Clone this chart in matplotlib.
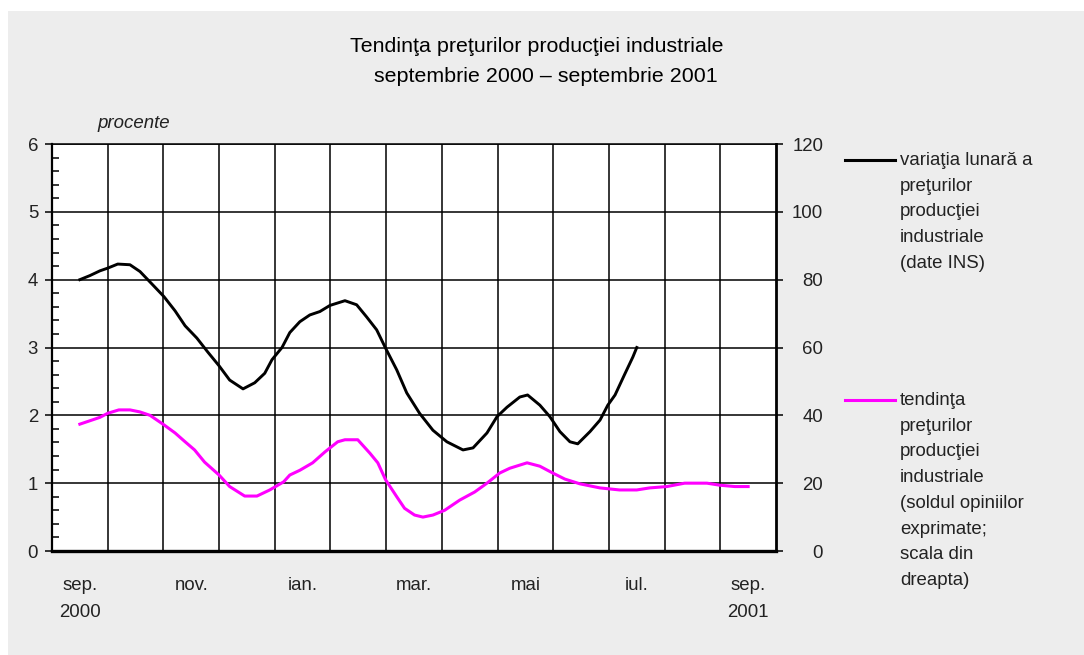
"""Tendinta preturilor productiei industriale, sep. 2000 - sep. 2001."""

import matplotlib.pyplot as plt
from matplotlib.patches import Rectangle
from matplotlib.lines import Line2D
from matplotlib.ticker import MultipleLocator, FixedLocator

plt.rcParams["font.family"] = ["Liberation Sans", "DejaVu Sans"]

# month offsets from sep. 2000 (0 = sep. 2000, 12 = sep. 2001)
MONTH_LABELS = ["sep.\n2000", "nov.", "ian.", "mar.", "mai", "iul.", "sep.\n2001"]
MONTH_TICKS = [0, 2, 4, 6, 8, 10, 12]

# variatia lunara a preturilor (left scale, %)
ins_t = [0.00, 0.18, 0.36, 0.50, 0.68, 0.90, 1.08, 1.29, 1.51, 1.71, 1.89, 2.10,
         2.30, 2.50, 2.69, 2.93, 3.14, 3.32, 3.45, 3.63, 3.77, 3.95, 4.13, 4.31,
         4.49, 4.76, 4.97, 5.15, 5.33, 5.49, 5.69, 5.87, 6.10, 6.34, 6.59, 6.88,
         7.06, 7.31, 7.49, 7.67, 7.90, 8.04, 8.26, 8.44, 8.62, 8.80, 8.94, 9.16,
         9.34, 9.48, 9.61, 9.78, 9.93, 10.00]
ins_val = [4.00, 4.06, 4.13, 4.17, 4.23, 4.22, 4.12, 3.94, 3.75, 3.54, 3.32, 3.14,
           2.93, 2.73, 2.52, 2.39, 2.48, 2.62, 2.82, 3.00, 3.22, 3.38, 3.48, 3.53,
           3.62, 3.69, 3.63, 3.45, 3.26, 2.99, 2.67, 2.33, 2.03, 1.78, 1.61, 1.49,
           1.52, 1.74, 1.98, 2.12, 2.27, 2.30, 2.15, 1.98, 1.76, 1.61, 1.58, 1.76,
           1.93, 2.15, 2.30, 2.60, 2.86, 3.00]

# tendinta preturilor - soldul opiniilor (right scale)
opin_t = [0.00, 0.18, 0.36, 0.50, 0.70, 0.90, 1.08, 1.26, 1.51, 1.71, 1.89, 2.06,
          2.24, 2.50, 2.69, 2.96, 3.18, 3.41, 3.66, 3.77, 3.95, 4.18, 4.40, 4.63,
          4.76, 4.99, 5.21, 5.35, 5.49, 5.69, 5.83, 6.01, 6.16, 6.34, 6.55, 6.82,
          7.09, 7.31, 7.54, 7.72, 8.03, 8.26, 8.49, 8.71, 8.98, 9.34, 9.69, 10.00,
          10.23, 10.54, 10.86, 11.26, 11.49, 11.76, 12.00]
opin_val = [37.4, 38.4, 39.4, 40.6, 41.6, 41.6, 41.0, 40.0, 37.2, 34.8, 32.2, 29.8,
            26.2, 22.4, 19.0, 16.2, 16.2, 18.0, 20.4, 22.4, 23.8, 26.0, 29.2, 32.2,
            32.8, 32.8, 28.8, 26.0, 21.0, 16.0, 12.6, 10.6, 10.0, 10.6, 12.0, 15.0,
            17.4, 20.0, 23.0, 24.4, 26.0, 25.0, 23.0, 21.2, 19.8, 18.6, 18.0, 18.0,
            18.6, 19.0, 20.0, 20.0, 19.4, 19.0, 19.0]

LEGEND_INS = "variaţia lunară a\npreţurilor\nproducţiei\nindustriale\n(date INS)"
LEGEND_OPIN = ("tendinţa\npreţurilor\nproducţiei\nindustriale\n(soldul opiniilor\n"
               "exprimate;\nscala din\ndreapta)")

TXT = "#222222"
FS = 13.4

W, H = 1084, 655
fig = plt.figure(figsize=(W / 100, H / 100), dpi=100)
fig.patch.set_facecolor("white")
fig.patches.append(Rectangle((8 / W, 0), 1 - 8 / W, 1 - 11 / H, transform=fig.transFigure,
                             facecolor="#ededed", edgecolor="none", zorder=-5))

ax = fig.add_axes([52 / W, 1 - 551 / H, (776 - 52) / W, (551 - 144) / H])
ax.set_facecolor("white")
ax.set_xlim(-0.5, 12.5)
ax.set_ylim(0, 6)

ax.plot(ins_t, ins_val, color="black", lw=2.1, zorder=4)

# grid
ax.xaxis.set_minor_locator(FixedLocator([k - 0.5 for k in range(1, 13)]))
ax.set_xticks(MONTH_TICKS)
ax.set_xticklabels(MONTH_LABELS, fontsize=FS, color=TXT, linespacing=1.8, va="top")
ax.tick_params(axis="x", which="both", length=0, pad=18.5)
ax.grid(which="minor", axis="x", color="black", lw=1.1)
ax.yaxis.set_major_locator(MultipleLocator(1))
ax.yaxis.set_minor_locator(MultipleLocator(0.2))
ax.grid(which="major", axis="y", color="black", lw=1.1)
ax.tick_params(axis="y", which="major", direction="out", length=5, width=1.1,
               labelsize=FS, labelcolor=TXT, pad=5)
ax.tick_params(axis="y", which="minor", direction="in", length=5, width=1.1)
for side, lw in [("left", 1.6), ("bottom", 2.4), ("right", 2.0), ("top", 1.1)]:
    ax.spines[side].set_linewidth(lw)
    ax.spines[side].set_color("black")

ax2 = ax.twinx()
ax2.set_ylim(0, 120)
ax2.set_yticks(range(0, 121, 20))
ax2.plot(opin_t, opin_val, color="#ff00ff", lw=2.2, zorder=3)
ax2.tick_params(axis="y", direction="out", length=5, width=1.1, labelsize=FS,
                labelcolor=TXT, pad=29)
for lab in ax2.get_yticklabels():
    lab.set_horizontalalignment("right")
for side in ["left", "right", "top", "bottom"]:
    ax2.spines[side].set_visible(False)

fig.text(537 / W, 1 - 46 / H, "Tendinţa preţurilor producţiei industriale",
         ha="center", va="center", fontsize=15.4, color="black")
fig.text(546 / W, 1 - 76 / H, "septembrie 2000 – septembrie 2001",
         ha="center", va="center", fontsize=15.4, color="black")
fig.text(97 / W, 1 - 124 / H, "procente", ha="left", va="center", fontsize=FS,
         style="italic", color=TXT)

# legend drawn by hand to match the side layout
fig.add_artist(Line2D([845 / W, 895 / W], [1 - 160 / H] * 2, color="black", lw=2.2,
                      transform=fig.transFigure))
fig.text(900 / W, 1 - 152 / H, LEGEND_INS, ha="left", va="top", fontsize=FS,
         color=TXT, linespacing=1.67)
fig.add_artist(Line2D([845 / W, 895 / W], [1 - 400 / H] * 2, color="#ff00ff", lw=2.2,
                      transform=fig.transFigure))
fig.text(900 / W, 1 - 392 / H, LEGEND_OPIN, ha="left", va="top", fontsize=FS,
         color=TXT, linespacing=1.67)

fig.savefig("out.png", dpi=100)
